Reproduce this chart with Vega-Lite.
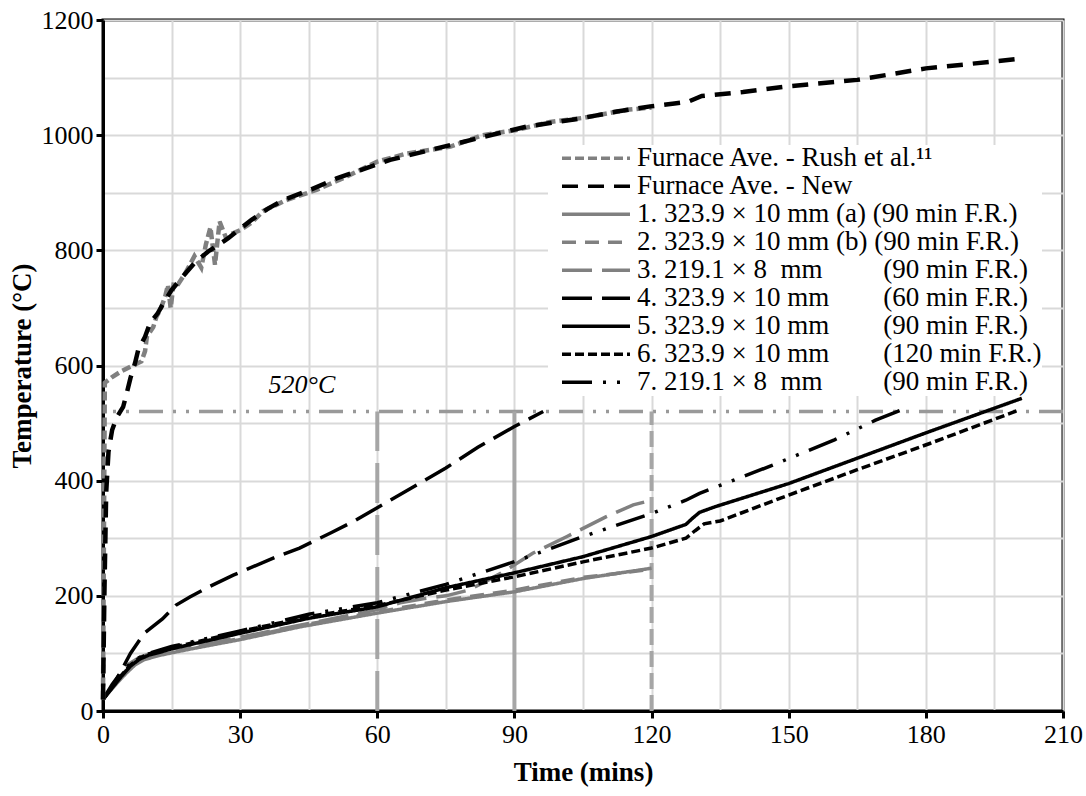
{
  "$schema": "https://vega.github.io/schema/vega-lite/v6.json",
  "width": 960,
  "height": 691,
  "autosize": {"type": "none"},
  "padding": {"left": 103, "top": 20, "right": 23, "bottom": 85},
  "background": "white",
  "config": {
    "font": "Liberation Serif",
    "view": {"stroke": "black", "strokeWidth": 3},
    "axis": {
      "domainColor": "black", "domainWidth": 3,
      "tickColor": "black", "tickWidth": 3, "tickSize": 7,
      "labelFont": "Liberation Serif", "labelFontSize": 26, "labelColor": "black",
      "titleFont": "Liberation Serif", "titleFontSize": 27, "titleFontWeight": "bold", "titleColor": "black",
      "gridColor": "#d9d9d9", "gridWidth": 2,
      "labelFlush": false, "labelOverlap": false
    }
  },
  "datasets": {
    "curves": [
      {"s":"R","t":0,"T":20},{"s":"R","t":0.2,"T":300},{"s":"R","t":0.4,"T":570},{"s":"R","t":1.2,"T":575},{"s":"R","t":2,"T":580},{"s":"R","t":4,"T":590},{"s":"R","t":6,"T":598},{"s":"R","t":8.4,"T":607},{"s":"R","t":9.2,"T":625},{"s":"R","t":9.6,"T":650},{"s":"R","t":11,"T":667},{"s":"R","t":11.7,"T":685},{"s":"R","t":12.5,"T":696},{"s":"R","t":13.6,"T":720},{"s":"R","t":14.2,"T":740},{"s":"R","t":14.8,"T":700},{"s":"R","t":15.5,"T":745},{"s":"R","t":16.5,"T":742},{"s":"R","t":18,"T":760},{"s":"R","t":19,"T":775},{"s":"R","t":20,"T":790},{"s":"R","t":21.5,"T":770},{"s":"R","t":22.5,"T":810},{"s":"R","t":23.5,"T":840},{"s":"R","t":24.5,"T":775},{"s":"R","t":25.5,"T":850},{"s":"R","t":27,"T":820},{"s":"R","t":28,"T":828},{"s":"R","t":30,"T":835},{"s":"R","t":32.5,"T":848},{"s":"R","t":35,"T":868},{"s":"R","t":40,"T":887},{"s":"R","t":46.7,"T":905},{"s":"R","t":53.3,"T":928},{"s":"R","t":60,"T":954},{"s":"R","t":66.4,"T":968},{"s":"R","t":76,"T":980},{"s":"R","t":83,"T":1000},{"s":"R","t":90.5,"T":1009},{"s":"R","t":97.8,"T":1023},{"s":"R","t":105,"T":1030},{"s":"R","t":114.6,"T":1044},{"s":"R","t":120,"T":1048},
      {"s":"N","t":0,"T":20},{"s":"N","t":0.3,"T":200},{"s":"N","t":0.7,"T":380},{"s":"N","t":1.2,"T":450},{"s":"N","t":2,"T":488},{"s":"N","t":3,"T":510},{"s":"N","t":4.4,"T":528},{"s":"N","t":5.2,"T":552},{"s":"N","t":6,"T":578},{"s":"N","t":7,"T":604},{"s":"N","t":7.7,"T":627},{"s":"N","t":9.2,"T":650},{"s":"N","t":10.3,"T":674},{"s":"N","t":12,"T":691},{"s":"N","t":13.5,"T":712},{"s":"N","t":15,"T":731},{"s":"N","t":17.5,"T":755},{"s":"N","t":20,"T":778},{"s":"N","t":23,"T":798},{"s":"N","t":27.4,"T":821},{"s":"N","t":32.5,"T":853},{"s":"N","t":36,"T":872},{"s":"N","t":39.4,"T":887},{"s":"N","t":45.3,"T":905},{"s":"N","t":51.1,"T":925},{"s":"N","t":56.2,"T":939},{"s":"N","t":62.8,"T":957},{"s":"N","t":73,"T":977},{"s":"N","t":83.2,"T":997},{"s":"N","t":92.7,"T":1015},{"s":"N","t":104.4,"T":1029},{"s":"N","t":112.4,"T":1041},{"s":"N","t":119.7,"T":1050},{"s":"N","t":125,"T":1055},{"s":"N","t":128,"T":1058},{"s":"N","t":131,"T":1068},{"s":"N","t":140,"T":1075},{"s":"N","t":150,"T":1085},{"s":"N","t":165,"T":1096},{"s":"N","t":180,"T":1116},{"s":"N","t":190,"T":1124},{"s":"N","t":201,"T":1133},
      {"s":"1","t":0,"T":20},{"s":"1","t":1,"T":30},{"s":"1","t":3,"T":48},{"s":"1","t":5,"T":65},{"s":"1","t":7,"T":80},{"s":"1","t":9,"T":89},{"s":"1","t":12,"T":96},{"s":"1","t":15,"T":101},{"s":"1","t":20,"T":109},{"s":"1","t":30,"T":124},{"s":"1","t":43,"T":146},{"s":"1","t":60,"T":170},{"s":"1","t":75,"T":190},{"s":"1","t":90,"T":207},{"s":"1","t":105,"T":230},{"s":"1","t":120,"T":248},
      {"s":"2","t":0,"T":20},{"s":"2","t":1,"T":32},{"s":"2","t":3,"T":52},{"s":"2","t":5,"T":70},{"s":"2","t":7,"T":84},{"s":"2","t":10,"T":94},{"s":"2","t":13,"T":99},{"s":"2","t":16,"T":104},{"s":"2","t":20,"T":111},{"s":"2","t":30,"T":126},{"s":"2","t":45,"T":151},{"s":"2","t":60,"T":172},{"s":"2","t":75,"T":193},{"s":"2","t":90,"T":210},{"s":"2","t":105,"T":232},{"s":"2","t":120,"T":246},
      {"s":"3","t":0,"T":20},{"s":"3","t":2,"T":40},{"s":"3","t":4,"T":62},{"s":"3","t":5.3,"T":80},{"s":"3","t":8,"T":93},{"s":"3","t":12.5,"T":106},{"s":"3","t":15,"T":108},{"s":"3","t":20,"T":114},{"s":"3","t":30,"T":128},{"s":"3","t":45,"T":152},{"s":"3","t":60,"T":176},{"s":"3","t":65,"T":188},{"s":"3","t":70,"T":195},{"s":"3","t":75,"T":200},{"s":"3","t":80,"T":210},{"s":"3","t":83,"T":222},{"s":"3","t":87,"T":239},{"s":"3","t":94,"T":274},{"s":"3","t":101.5,"T":303},{"s":"3","t":110,"T":337},{"s":"3","t":116,"T":358},{"s":"3","t":120,"T":366},
      {"s":"4","t":0,"T":20},{"s":"4","t":2,"T":42},{"s":"4","t":4,"T":70},{"s":"4","t":6,"T":100},{"s":"4","t":9,"T":135},{"s":"4","t":13,"T":160},{"s":"4","t":16,"T":184},{"s":"4","t":19,"T":198},{"s":"4","t":23,"T":215},{"s":"4","t":28.5,"T":236},{"s":"4","t":38,"T":268},{"s":"4","t":43,"T":283},{"s":"4","t":50,"T":310},{"s":"4","t":55,"T":330},{"s":"4","t":60,"T":353},{"s":"4","t":67,"T":385},{"s":"4","t":75,"T":422},{"s":"4","t":82,"T":458},{"s":"4","t":90,"T":494},{"s":"4","t":96.3,"T":520},
      {"s":"5","t":0,"T":20},{"s":"5","t":1,"T":30},{"s":"5","t":2,"T":40},{"s":"5","t":4,"T":60},{"s":"5","t":6,"T":78},{"s":"5","t":8,"T":90},{"s":"5","t":10,"T":97},{"s":"5","t":12,"T":101},{"s":"5","t":15,"T":108},{"s":"5","t":20,"T":117},{"s":"5","t":30,"T":135},{"s":"5","t":45,"T":161},{"s":"5","t":60,"T":181},{"s":"5","t":75,"T":214},{"s":"5","t":90,"T":240},{"s":"5","t":105,"T":268},{"s":"5","t":120,"T":303},{"s":"5","t":127.5,"T":324},{"s":"5","t":129,"T":335},{"s":"5","t":130.5,"T":345},{"s":"5","t":134,"T":355},{"s":"5","t":150,"T":395},{"s":"5","t":165,"T":439},{"s":"5","t":180,"T":483},{"s":"5","t":194,"T":523},{"s":"5","t":201,"T":543},
      {"s":"6","t":0,"T":20},{"s":"6","t":1,"T":31},{"s":"6","t":2,"T":42},{"s":"6","t":4,"T":62},{"s":"6","t":6,"T":80},{"s":"6","t":8,"T":92},{"s":"6","t":10,"T":99},{"s":"6","t":12,"T":103},{"s":"6","t":15,"T":110},{"s":"6","t":20,"T":119},{"s":"6","t":30,"T":138},{"s":"6","t":45,"T":164},{"s":"6","t":60,"T":183},{"s":"6","t":75,"T":210},{"s":"6","t":90,"T":233},{"s":"6","t":105,"T":259},{"s":"6","t":120,"T":283},{"s":"6","t":127.5,"T":300},{"s":"6","t":129.5,"T":313},{"s":"6","t":131.5,"T":325},{"s":"6","t":135,"T":330},{"s":"6","t":150,"T":375},{"s":"6","t":165,"T":419},{"s":"6","t":181,"T":465},{"s":"6","t":200.5,"T":523},
      {"s":"7","t":0,"T":20},{"s":"7","t":1,"T":33},{"s":"7","t":2,"T":46},{"s":"7","t":3,"T":57},{"s":"7","t":4,"T":68},{"s":"7","t":6,"T":82},{"s":"7","t":8,"T":93},{"s":"7","t":10,"T":100},{"s":"7","t":15,"T":112},{"s":"7","t":20,"T":121},{"s":"7","t":30,"T":139},{"s":"7","t":45,"T":168},{"s":"7","t":60,"T":188},{"s":"7","t":75,"T":220},{"s":"7","t":91,"T":262},{"s":"7","t":105,"T":303},{"s":"7","t":120,"T":343},{"s":"7","t":127.5,"T":366},{"s":"7","t":130.5,"T":378},{"s":"7","t":146.5,"T":427},{"s":"7","t":160,"T":471},{"s":"7","t":169,"T":505},{"s":"7","t":176,"T":527}
    ]
  },
  "layer": [
    {
      "data": {"values": [{"T": 520}]},
      "mark": {"type": "rule", "color": "#999999", "strokeWidth": 3.5, "strokeDash": [24, 10, 3, 10, 3, 10]},
      "encoding": {"y": {"field": "T", "type": "quantitative"}}
    },
    {
      "data": {"values": [{"t": 60, "T0": 0, "T": 520}]},
      "mark": {"type": "rule", "color": "#a6a6a6", "strokeWidth": 4, "strokeDash": [40, 12]},
      "encoding": {"x": {"field": "t", "type": "quantitative"}, "y": {"field": "T0", "type": "quantitative"}, "y2": {"field": "T"}}
    },
    {
      "data": {"values": [{"t": 90, "T0": 0, "T": 520}]},
      "mark": {"type": "rule", "color": "#a6a6a6", "strokeWidth": 4},
      "encoding": {"x": {"field": "t", "type": "quantitative"}, "y": {"field": "T0", "type": "quantitative"}, "y2": {"field": "T"}}
    },
    {
      "data": {"values": [{"t": 120, "T0": 0, "T": 520}]},
      "mark": {"type": "rule", "color": "#a6a6a6", "strokeWidth": 4, "strokeDash": [16, 6]},
      "encoding": {"x": {"field": "t", "type": "quantitative"}, "y": {"field": "T0", "type": "quantitative"}, "y2": {"field": "T"}}
    },
    {
      "data": {"name": "curves"},
      "transform": [{"filter": {"field": "s", "oneOf": ["1", "2", "3", "4", "5", "6", "7"]}}],
      "mark": {"type": "line", "strokeWidth": 3.5},
      "encoding": {
        "x": {"field": "t", "type": "quantitative", "scale": {"domain": [0, 210], "nice": false, "zero": false},
          "axis": {"title": "Time (mins)", "values": [0,15,30,45,60,75,90,105,120,135,150,165,180,195,210],
            "labelExpr": "datum.value % 30 === 0 ? datum.label : ''",
            "tickOpacity": {"condition": {"test": "datum.value % 30 === 0", "value": 1}, "value": 0},
            "labelPadding": 3, "titlePadding": 12}},
        "y": {"field": "T", "type": "quantitative", "scale": {"domain": [0, 1200], "nice": false},
          "axis": {"title": "Temperature (°C)", "values": [0,100,200,300,400,500,600,700,800,900,1000,1100,1200],
            "labelExpr": "datum.value % 200 === 0 ? datum.label : ''",
            "tickOpacity": {"condition": {"test": "datum.value % 200 === 0", "value": 1}, "value": 0},
            "labelPadding": 3, "titlePadding": 5, "format": "d"}},
        "color": {"field": "s", "type": "nominal",
          "scale": {"domain": ["R","N","1","2","3","4","5","6","7"], "range": ["#808080","#000000","#808080","#808080","#808080","#000000","#000000","#000000","#000000"]},
          "legend": {"title": null, "orient": "none", "legendX": 445, "legendY": 125, "fillColor": "white", "padding": 0,
            "symbolType": "stroke", "symbolSize": 4624, "symbolStrokeWidth": 3.5, "symbolOffset": 12, "clipHeight": 26.6,
            "labelFont": "Liberation Serif", "labelFontSize": 27, "labelColor": "black", "labelOffset": 5, "labelLimit": 0, "rowPadding": 0,
            "labelExpr": "{'R':'Furnace Ave. - Rush et al.\u00b9\u00b9','N':'Furnace Ave. - New','1':'1. 323.9 \u00d7 10 mm (a) (90 min F.R.)','2':'2. 323.9 \u00d7 10 mm (b) (90 min F.R.)','3':'3. 219.1 \u00d7 8\u00a0\u00a0mm\u00a0\u00a0\u00a0\u00a0\u00a0\u00a0\u00a0\u00a0\u00a0(90 min F.R.)','4':'4. 323.9 \u00d7 10 mm\u00a0\u00a0\u00a0\u00a0\u00a0\u00a0\u00a0\u00a0(60 min F.R.)','5':'5. 323.9 \u00d7 10 mm\u00a0\u00a0\u00a0\u00a0\u00a0\u00a0\u00a0\u00a0(90 min F.R.)','6':'6. 323.9 \u00d7 10 mm\u00a0\u00a0\u00a0\u00a0\u00a0\u00a0\u00a0\u00a0(120 min F.R.)','7':'7. 219.1 \u00d7 8\u00a0\u00a0mm\u00a0\u00a0\u00a0\u00a0\u00a0\u00a0\u00a0\u00a0\u00a0(90 min F.R.)'}[datum.label]"}},
        "strokeDash": {"field": "s", "type": "nominal",
          "scale": {"domain": ["R","N","1","2","3","4","5","6","7"], "range": [[9,4],[16,10],[1,0],[14,9],[30,10],[30,10],[1,0],[9,4],[30,11,3,11,3,11]]}}
      }
    },
    {
      "data": {"name": "curves"},
      "transform": [{"filter": {"field": "s", "oneOf": ["R", "N"]}}],
      "mark": {"type": "line", "strokeWidth": 4.5},
      "encoding": {
        "x": {"field": "t", "type": "quantitative"},
        "y": {"field": "T", "type": "quantitative"},
        "color": {"field": "s", "type": "nominal"},
        "strokeDash": {"field": "s", "type": "nominal"}
      }
    },
    {
      "data": {"values": [{"t": 43.5, "T": 520, "label": "520°C"}]},
      "mark": {"type": "text", "font": "Liberation Serif", "fontSize": 26, "fontStyle": "italic", "color": "black", "baseline": "middle", "align": "center", "dy": -27},
      "encoding": {"x": {"field": "t", "type": "quantitative"}, "y": {"field": "T", "type": "quantitative"}, "text": {"field": "label"}}
    }
  ]
}
